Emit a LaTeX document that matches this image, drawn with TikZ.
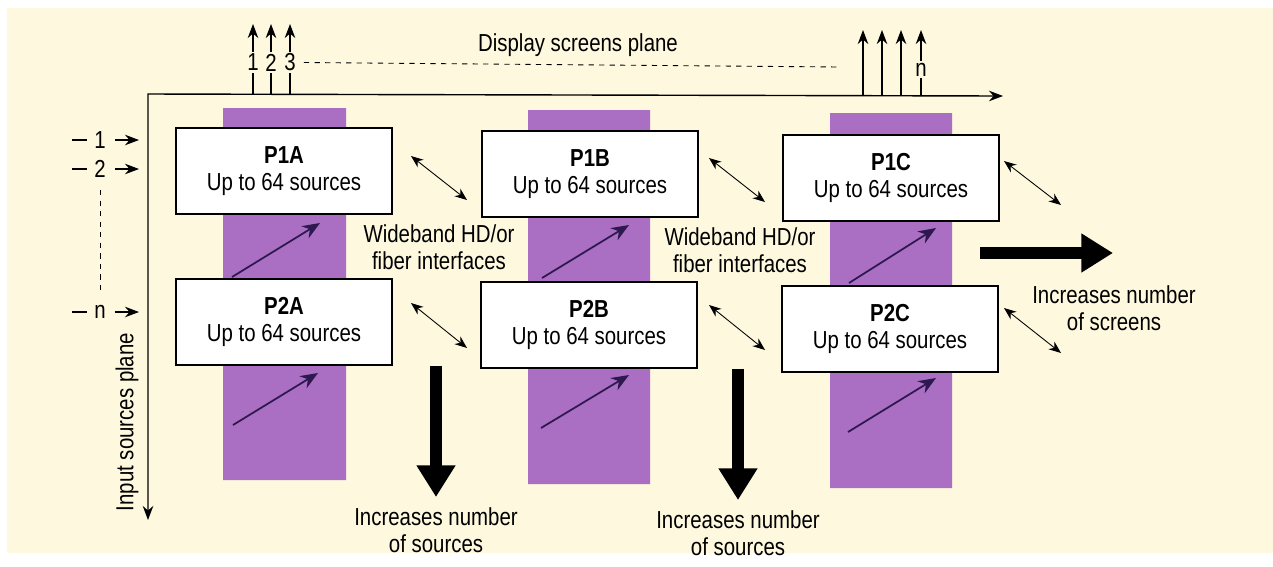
\documentclass[tikz,border=0pt]{standalone}
\usepackage{fontspec}
\setmainfont{Liberation Sans}[FakeStretch=0.83]
\usetikzlibrary{arrows.meta}
\definecolor{cream}{RGB}{253,248,222}
\definecolor{mauve}{RGB}{170,110,194}
\definecolor{ink}{RGB}{45,25,80}

\begin{document}
\begin{tikzpicture}[x=0.02cm,y=-0.02cm,
    font=\fontsize{14}{15.5}\selectfont,
    proc/.style={draw,fill=white,line width=0.8pt,align=center,inner sep=0pt,
      minimum width=4.32cm,minimum height=1.72cm},
    tip/.style={-{Stealth[length=8pt,width=6pt]}},
    dbl/.style={{Stealth[length=7pt,width=5.5pt]}-{Stealth[length=7pt,width=5.5pt]},line width=0.5pt},
    feed/.style={ink,line width=1pt,-{Stealth[length=10pt,width=8pt]}},
    big/.style={line width=7pt,-{Triangle[length=18pt,width=21pt]}},
    lbl/.style={fill=cream,inner sep=1pt}]
  \useasboundingbox (0,0) rectangle (1273,566);
  \fill[white] (0,0) rectangle (1273,566);
  \fill[cream] (7,8) rectangle (1273,553);

  % purple columns
  \scope
  \fill[mauve] (223,108) rectangle (346,480)
    (528,110) rectangle (650,484)
    (830,113) rectangle (952,488);
  \endscope

  % planes
  \draw[line width=0.8pt,{Stealth[length=8pt,width=6pt]}-{Stealth[length=8pt,width=6pt]}]
    (148,520) -- (148,94) -- (1003,96);
  \node[rotate=90] (inplane) at (127,422) {Input sources plane};
  \node (outplane) at (578,45) {Display screens plane};

  % screens
  \foreach \x/\t in {253/1,271/2,290/3}
    \draw[tip,line width=0.6pt] (\x,94) -- node[lbl,pos=0.45] (s\t) {\t} (\x,24);
  \foreach \x in {863,882,901}
    \draw[tip,line width=0.6pt] (\x,96) -- (\x,30);
  \draw[tip,line width=0.6pt] (921,96) -- node[lbl,pos=0.4] (sn) {n} (921,30);
  \draw[dashed,line width=0.5pt] (s3.east) ++(6,0) coordinate (d0) -- (840,67);

  % sources
  \foreach \y/\t in {140/1,169/2,312/n}{
    \draw[line width=0.6pt] (72,\y) -- (87,\y);
    \node (i\t) at (100,\y) {\t};
    \draw[tip,line width=0.6pt] (i\t.east) ++(3,0) coordinate (a\t) -- (139,\y);
  }
  \draw[dashed,line width=0.5pt] (100,190) -- (100,295);

  % processors
  \node[proc] (P1A) at (284,171) {\textbf{P1A}\\Up to 64 sources};
  \node[proc] (P1B) at (590,174) {\textbf{P1B}\\Up to 64 sources};
  \node[proc] (P1C) at (891,178) {\textbf{P1C}\\Up to 64 sources};
  \node[proc] (P2A) at (284,322) {\textbf{P2A}\\Up to 64 sources};
  \node[proc] (P2B) at (589,325) {\textbf{P2B}\\Up to 64 sources};
  \node[proc] (P2C) at (890,329) {\textbf{P2C}\\Up to 64 sources};

  % feeds inside columns
  \draw[feed] (232,277) -- (320,223);
  \draw[feed] (233,425) -- (318,373);
  \draw[feed] (542,278) -- (629,225);
  \draw[feed] (541,428) -- (629,375);
  \draw[feed] (849,283) -- (936,228);
  \draw[feed] (848,432) -- (936,378);

  % interfaces
  \foreach \r/\ya/\yb in {1/156/200,2/303/348}{
    \coordinate (u\r a) at (411,\ya); \coordinate (v\r a) at (467,\yb);
    \coordinate (u\r b) at (709,\ya+2); \coordinate (v\r b) at (765,\yb+2);
    \coordinate (u\r c) at (1004,\ya+5); \coordinate (v\r c) at (1061,\yb+5);
    \draw[dbl] (u\r a) -- (v\r a);
    \draw[dbl] (u\r b) -- (v\r b);
    \draw[dbl] (u\r c) -- (v\r c);
  }
  \node[align=center] (wb1) at (439,247) {Wideband HD/or\\fiber interfaces};
  \node[align=center] (wb2) at (740,250) {Wideband HD/or\\fiber interfaces};

  % growth
  \draw[big] (P2A.south -| 436,0) -- (436,497);
  \draw[big] (P2B.south -| 738,0) -- (738,500);
  \draw[big] (980,253) -- (1113,253);
  \node[align=center] (more1) at (436,530) {Increases number\\of sources};
  \node[align=center] (more2) at (738,533) {Increases number\\of sources};
  \node[align=center] (more3) at (1114,308) {Increases number\\of screens};
\end{tikzpicture}
\end{document}
